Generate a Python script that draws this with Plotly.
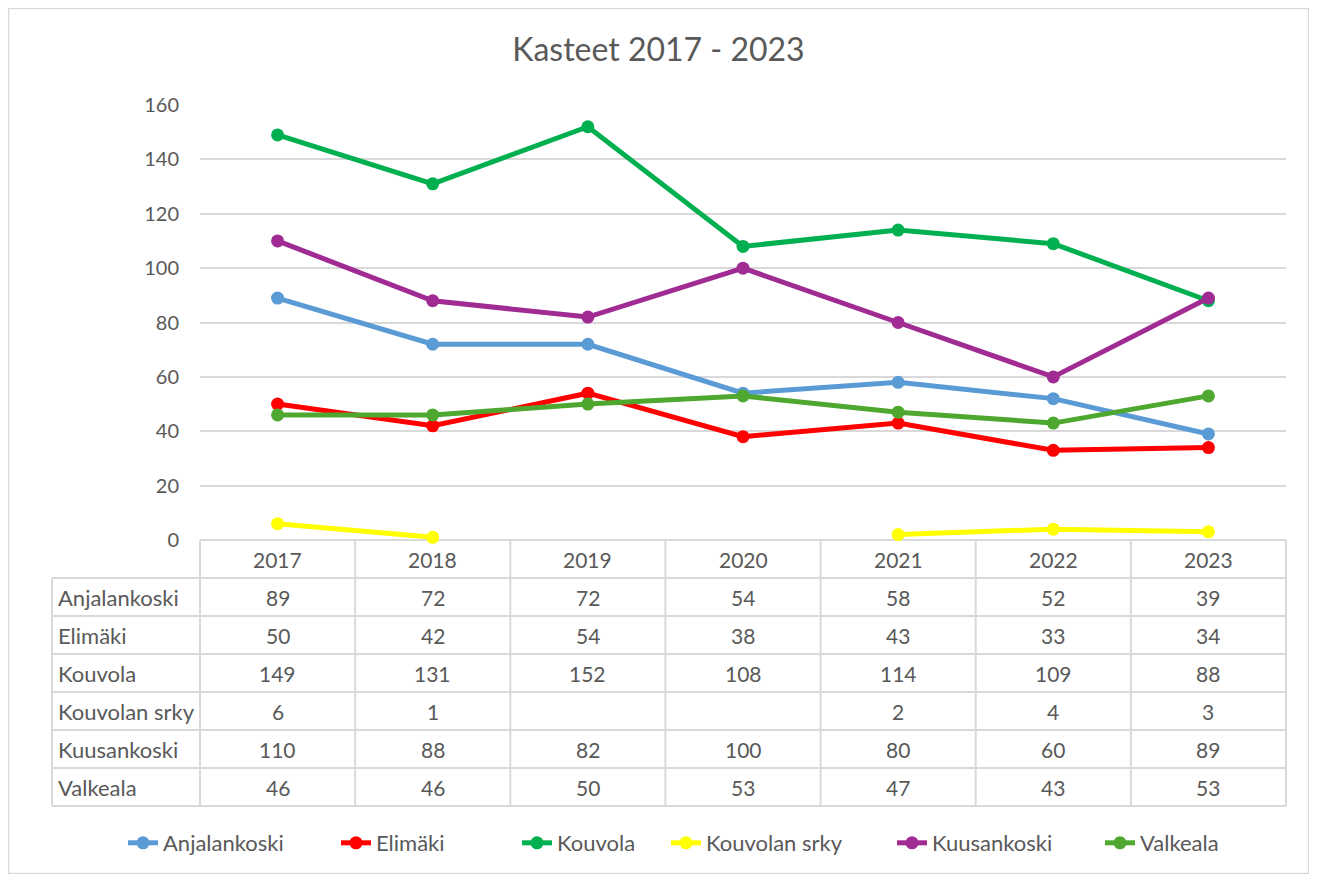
import plotly.graph_objects as go

years = ["2017", "2018", "2019", "2020", "2021", "2022", "2023"]
series_names = ["Anjalankoski", "Elimäki", "Kouvola", "Kouvolan srky", "Kuusankoski", "Valkeala"]
anjalankoski = [89, 72, 72, 54, 58, 52, 39]
elimaki = [50, 42, 54, 38, 43, 33, 34]
kouvola = [149, 131, 152, 108, 114, 109, 88]
kouvolan_srky = [6, 1, None, None, 2, 4, 3]
kuusankoski = [110, 88, 82, 100, 80, 60, 89]
valkeala = [46, 46, 50, 53, 47, 43, 53]
series_values = [anjalankoski, elimaki, kouvola, kouvolan_srky, kuusankoski, valkeala]
colors = ["#5B9BD5", "#FF0000", "#00B050", "#FFFF00", "#A02B93", "#4EA72E"]
y_ticks = [0, 20, 40, 60, 80, 100, 120, 140, 160]
# legend text start positions (page pixels)
legend_text_x = [163, 376, 557, 706, 932, 1140]

OFF = 8  # page body margin
W, H = 1317 - 2 * OFF, 882 - 2 * OFF
PL, PR, PT, PB = 200 - OFF, 1286 - OFF, 105 - OFF, 540 - OFF  # plot area in figure pixels
ROW = 38
LEFT_COL = 52 - OFF
FONT = "Lato, 'Open Sans', sans-serif"
TXT = "#595959"
GRID = "#D9D9D9"

n = len(years)
xs = list(range(n))


def px_x(p):
    return (p - PL) / (PR - PL)


def px_y(p):
    return (PB - p) / (PB - PT)


fig = go.Figure()
legend_layouts = {}
for k, (name, vals, col) in enumerate(zip(series_names, series_values, colors)):
    lname = "legend" if k == 0 else f"legend{k + 1}"
    fig.add_trace(go.Scatter(
        x=xs, y=vals, name=name, mode="lines+markers",
        line=dict(color=col, width=5), marker=dict(color=col, size=13),
        connectgaps=False, cliponaxis=False, legend=lname,
    ))
    legend_layouts[lname] = dict(
        orientation="h", xref="container", yref="container",
        x=(legend_text_x[k] - OFF - 40) / W, xanchor="left",
        y=1 - (843 - OFF) / H, yanchor="middle",
        font=dict(family=FONT, size=22, color=TXT), bgcolor="rgba(0,0,0,0)",
    )

shapes = []
annotations = []
line_style = dict(color=GRID, width=2)
table_bottom = PB + ROW * (len(series_names) + 1)
for i in range(n + 1):
    xp = px_x(PL + (PR - PL) * i / n)
    shapes.append(dict(type="line", xref="paper", yref="paper", x0=xp, x1=xp,
                       y0=px_y(PB), y1=px_y(table_bottom), line=line_style, layer="below"))
shapes.append(dict(type="line", xref="paper", yref="paper", x0=px_x(LEFT_COL), x1=px_x(LEFT_COL),
                   y0=px_y(PB + ROW), y1=px_y(table_bottom), line=line_style, layer="below"))
shapes.append(dict(type="line", xref="paper", yref="paper", x0=0, x1=1,
                   y0=px_y(PB), y1=px_y(PB), line=line_style, layer="below"))
for r in range(1, len(series_names) + 2):
    yy = px_y(PB + ROW * r)
    shapes.append(dict(type="line", xref="paper", yref="paper", x0=px_x(LEFT_COL), x1=1,
                       y0=yy, y1=yy, line=line_style, layer="below"))
# outer border
shapes.append(dict(type="rect", xref="paper", yref="paper", x0=px_x(0.5), x1=px_x(W - 0.5),
                   y0=px_y(H - 0.5), y1=px_y(0.5), line=dict(color=GRID, width=1.5)))

nfont = dict(family=FONT, size=21, color=TXT)
lfont = dict(family=FONT, size=22, color=TXT)
for i, yr in enumerate(years):
    annotations.append(dict(x=(i + 0.5) / n, y=px_y(PB + ROW / 2), xref="paper", yref="paper",
                            text=yr, showarrow=False, font=nfont, xanchor="center", yanchor="middle"))
for r, (name, vals) in enumerate(zip(series_names, series_values)):
    yc = px_y(PB + ROW * (r + 1) + ROW / 2)
    annotations.append(dict(x=px_x(LEFT_COL + 4), y=yc, xref="paper", yref="paper", text=name,
                            showarrow=False, font=lfont, xanchor="left", yanchor="middle"))
    for i, v in enumerate(vals):
        if v is None:
            continue
        annotations.append(dict(x=(i + 0.5) / n, y=yc, xref="paper", yref="paper", text=str(v),
                                showarrow=False, font=nfont, xanchor="center", yanchor="middle"))

fig.update_layout(
    width=W, height=H,
    margin=dict(l=PL, r=W - PR, t=PT, b=H - PB),
    paper_bgcolor="white", plot_bgcolor="white",
    title=dict(text="Kasteet 2017 - 2023", x=0.5, xref="container", xanchor="center",
               y=1 - (50 - OFF) / H, yref="container", yanchor="middle",
               font=dict(family=FONT, size=32, color=TXT)),
    xaxis=dict(range=[-0.5, n - 0.5], showticklabels=False, showgrid=False, zeroline=False,
               fixedrange=True, showline=False),
    yaxis=dict(range=[0, 160], tickvals=y_ticks, showgrid=True, gridcolor=GRID, gridwidth=1.5,
               zeroline=False, showline=False, ticks="", ticklabelstandoff=20,
               tickfont=dict(family=FONT, size=20, color=TXT)),
    shapes=shapes, annotations=annotations, showlegend=True,
    **legend_layouts,
)

fig.write_html("out.html")
